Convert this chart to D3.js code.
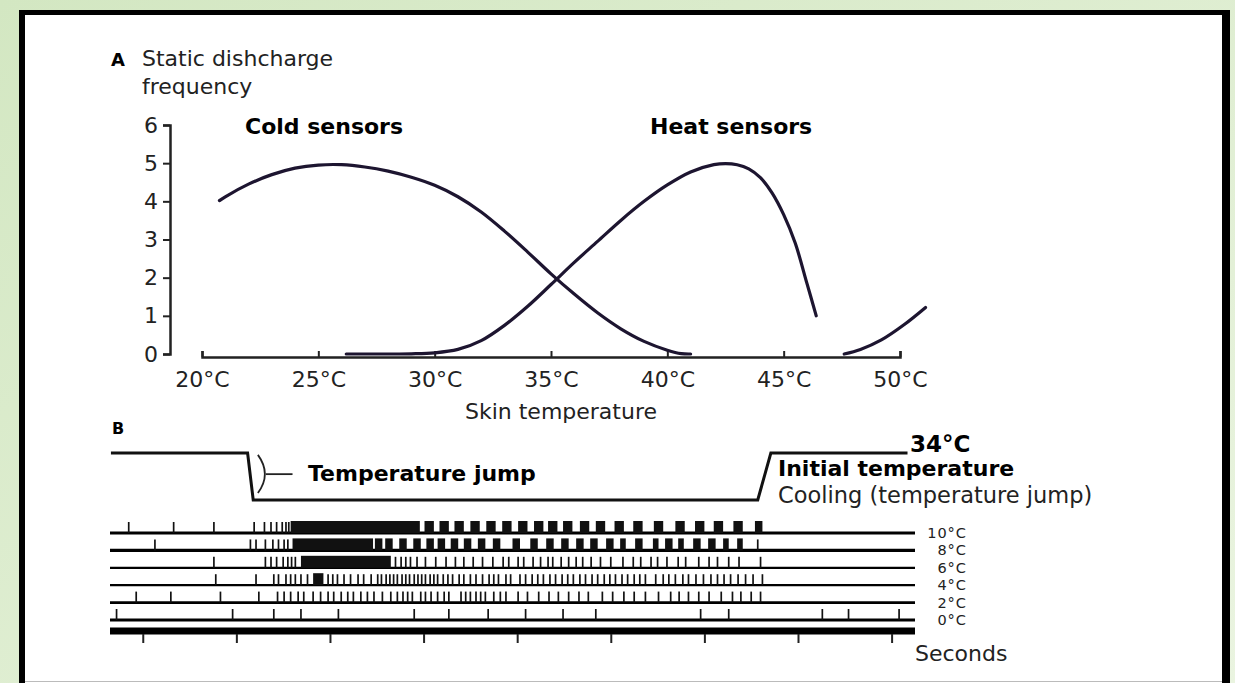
<!DOCTYPE html>
<html>
<head>
<meta charset="utf-8">
<script src="https://cdn.jsdelivr.net/npm/d3@7"></script>
<style>
body{margin:0;}
svg{display:block;font-family:"DejaVu Sans",Verdana,sans-serif;}
</style>
</head>
<body>
<svg></svg>
<script>
// ---- panel A data (skin temperature in °C, discharge frequency)
var tempTicks=[20,25,30,35,40,45,50];
var freqTicks=[0,1,2,3,4,5,6];
var coldSensors=[[20.75,4.02],[21,4.12],[22,4.45],[23,4.7],[24,4.87],[25,4.95],[26,4.96],[27,4.9],[28,4.79],[29,4.63],[30,4.42],[31,4.12],[32,3.72],[33,3.22],[34,2.67],[35,2.1],[36,1.57],[37,1.08],[38,0.66],[39,0.33],[40,0.1],[40.6,0.01],[41,0]];
var heatSensors=[[26.2,0],[28,0],[29,0.005],[30,0.03],[31,0.12],[32,0.35],[33,0.75],[34,1.25],[35,1.82],[36,2.4],[37,2.95],[38,3.5],[39,4.0],[40,4.43],[41,4.77],[42,4.96],[42.5,4.99],[43,4.96],[43.5,4.85],[44,4.62],[44.5,4.22],[45,3.65],[45.5,2.9],[46,1.85],[46.4,1.0]];
var heatSensorsHigh=[[47.6,0],[48.3,0.12],[49.2,0.37],[50.2,0.78],[51.1,1.22]];

// ---- panel B data (time in seconds)
var secondTicks=[0,1,2,3,4,5,6,7,8];
var tempTrace=[{t:-0.34,level:1},{t:1.12,level:1},{t:1.18,level:0},{t:6.57,level:0},{t:6.71,level:1},{t:8.17,level:1}];
var rows=["10°C","8°C","6°C","4°C","2°C","0°C"];

var spikes10=[-0.15,0.33,0.76,1.19,1.30,1.37,1.43,1.49,1.53,1.56];
var bursts10=[[1.58,2.96],[3.01,3.11],[3.17,3.27],[3.33,3.43],[3.50,3.60],[3.67,3.77],[3.84,3.94],[4.01,4.11],[4.18,4.28],[4.33,4.43],[4.49,4.59],[4.67,4.77],[4.84,4.94],[5.04,5.14],[5.24,5.34],[5.46,5.56],[5.69,5.79],[5.90,6.00],[6.10,6.20],[6.31,6.41],[6.54,6.62]];

var spikes8=[0.13,1.15,1.21,1.31,1.39,1.45,1.51,1.55,6.57];
var bursts8=[[1.60,2.46],[2.48,2.56],[2.59,2.67],[2.74,2.82],[2.89,2.97],[3.03,3.11],[3.15,3.23],[3.29,3.37],[3.43,3.51],[3.58,3.66],[3.74,3.82],[3.95,4.03],[4.14,4.22],[4.31,4.39],[4.47,4.55],[4.63,4.71],[4.78,4.86],[4.95,5.03],[5.10,5.16],[5.26,5.34],[5.45,5.51],[5.58,5.66],[5.72,5.78],[5.88,5.96],[6.04,6.12],[6.20,6.26],[6.35,6.41]];

var spikes6=[0.76,1.31,1.37,1.43,1.50,1.55,1.59,1.63,2.70,2.76,2.81,2.86,2.93,3.02,3.13,3.24,3.34,3.43,3.53,3.63,3.74,3.85,3.91,4.01,4.07,4.17,4.25,4.33,4.38,4.47,4.55,4.63,4.70,4.79,4.89,5.00,5.13,5.24,5.32,5.43,5.50,5.60,5.72,5.80,5.94,6.05,6.14,6.26,6.37,6.60];
var bursts6=[[1.69,2.65]];

var spikes4=[0.78,1.21,1.40,1.45,1.53,1.58,1.63,1.69,1.76,1.98,2.03,2.08,2.15,2.22,2.30,2.36,2.44,2.51,2.55,2.60,2.64,2.68,2.72,2.77,2.81,2.85,2.90,2.94,2.98,3.02,3.07,3.11,3.15,3.21,3.26,3.31,3.38,3.43,3.50,3.56,3.63,3.70,3.75,3.80,3.88,3.93,4.03,4.09,4.16,4.22,4.28,4.35,4.41,4.48,4.54,4.60,4.67,4.73,4.80,4.86,4.93,4.99,5.05,5.12,5.18,5.25,5.31,5.37,5.48,5.56,5.62,5.69,5.77,5.83,5.91,5.99,6.07,6.14,6.21,6.28,6.36,6.44,6.52,6.62];
var bursts4=[[1.82,1.93]];

var spikes2=[-0.07,0.30,0.83,1.24,1.44,1.51,1.58,1.66,1.72,1.82,1.90,1.98,2.04,2.12,2.19,2.25,2.33,2.40,2.47,2.56,2.65,2.72,2.78,2.83,2.88,2.97,3.02,3.08,3.15,3.22,3.27,3.40,3.45,3.50,3.56,3.61,3.66,3.75,3.82,3.88,4.01,4.11,4.23,4.34,4.44,4.55,4.66,4.76,4.91,5.02,5.14,5.25,5.37,5.51,5.64,5.73,5.83,5.94,6.05,6.18,6.30,6.39,6.50,6.60];
var bursts2=[];

var spikes0=[-0.28,0.96,1.40,1.69,2.09,2.90,3.27,3.69,4.09,4.49,4.84,5.96,6.26,7.26,7.54,8.08];
var bursts0=[];

var spikeRows=[
  {label:rows[0],spikes:spikes10,bursts:bursts10,w:3.2},
  {label:rows[1],spikes:spikes8,bursts:bursts8,w:3.2},
  {label:rows[2],spikes:spikes6,bursts:bursts6,w:2.2},
  {label:rows[3],spikes:spikes4,bursts:bursts4,w:2.2},
  {label:rows[4],spikes:spikes2,bursts:bursts2,w:2.6},
  {label:rows[5],spikes:spikes0,bursts:bursts0,w:3}
];

var W=1235,H=683;
var ink="#1d1530";
var svg=d3.select("svg").attr("width",W).attr("height",H);

// background + framed panel
var grad=svg.append("defs").append("linearGradient").attr("id","bg")
  .attr("x1",0).attr("y1",0).attr("x2",1).attr("y2",1);
grad.append("stop").attr("offset","0%").attr("stop-color","#d3e7c2");
grad.append("stop").attr("offset","100%").attr("stop-color","#eaf4e0");
svg.append("rect").attr("width",W).attr("height",H).attr("fill","url(#bg)");
svg.append("rect").attr("x",19).attr("y",10).attr("width",1211).attr("height",700).attr("fill","#000");
svg.append("rect").attr("x",25).attr("y",15).attr("width",1197).attr("height",700).attr("fill","#fff");
svg.append("line").attr("x1",25).attr("x2",1222).attr("y1",681.5).attr("y2",681.5).attr("stroke","#bbb");

// ================= panel A
var x=d3.scaleLinear().domain([20,50]).range([202,900]);
var y=d3.scaleLinear().domain([0,6]).range([354,125]);

svg.append("text").attr("x",111).attr("y",66).attr("font-size",18).attr("font-weight","bold").text("A");
svg.append("text").attr("x",142).attr("y",66).attr("font-size",22).attr("fill","#222").text("Static dishcharge");
svg.append("text").attr("x",142).attr("y",94).attr("font-size",22).attr("fill","#222").text("frequency");

var yAxis=svg.append("g").attr("transform","translate(170,0)")
  .call(d3.axisLeft(y).tickValues(freqTicks).tickFormat(d3.format("d"))
  .tickSize(7).tickSizeOuter(7).tickPadding(5));
var xAxis=svg.append("g").attr("transform","translate(0,"+(y(0)+3)+")")
  .call(d3.axisBottom(x).tickValues(tempTicks).tickFormat(function(d){return d+"°C";})
  .tickSize(-6).tickSizeOuter(-6).tickPadding(14));
[yAxis,xAxis].forEach(function(a){
  a.select(".domain").attr("stroke","#222").attr("stroke-width",2.5);
  a.selectAll(".tick line").attr("stroke","#222").attr("stroke-width",2);
  a.selectAll(".tick text").attr("font-size",22).attr("fill","#222").attr("font-family","DejaVu Sans, Verdana, sans-serif");
});

svg.append("text").attr("x",561).attr("y",419).attr("text-anchor","middle")
  .attr("font-size",22).attr("fill","#222").text("Skin temperature");
svg.append("text").attr("x",245).attr("y",134).attr("font-size",22).attr("font-weight","bold").text("Cold sensors");
svg.append("text").attr("x",650).attr("y",134).attr("font-size",22).attr("font-weight","bold").text("Heat sensors");

var curve=d3.line().x(function(d){return x(d[0]);}).y(function(d){return y(d[1]);})
  .curve(d3.curveCatmullRom.alpha(0.5));
[coldSensors,heatSensors,heatSensorsHigh].forEach(function(s){
  svg.append("path").datum(s).attr("d",curve)
    .attr("fill","none").attr("stroke",ink).attr("stroke-width",3.2).attr("stroke-linecap","round");
});

// ================= panel B
var t=d3.scaleLinear().domain([-0.35,8.25]).range([110,915]);
var lvl=d3.scaleLinear().domain([0,1]).range([500,453]);
var rowY=d3.scalePoint().domain(rows).range([533,620]);

svg.append("text").attr("x",112).attr("y",434).attr("font-size",16).attr("font-weight","bold").text("B");

svg.append("path").datum(tempTrace)
  .attr("d",d3.line().x(function(d){return t(d.t);}).y(function(d){return lvl(d.level);}))
  .attr("fill","none").attr("stroke","#111").attr("stroke-width",3);

// bracket marking the jump
var bx=t(1.23);
svg.append("path")
  .attr("d","M"+bx+","+lvl(0.96)+"Q"+(bx+14)+","+lvl(0.55)+" "+bx+","+lvl(0.15))
  .attr("fill","none").attr("stroke","#222").attr("stroke-width",1.8);
svg.append("line").attr("x1",bx+8).attr("x2",t(1.6)).attr("y1",lvl(0.55)).attr("y2",lvl(0.55))
  .attr("stroke","#222").attr("stroke-width",1.8);

svg.append("text").attr("x",308).attr("y",481).attr("font-size",22).attr("font-weight","bold").text("Temperature jump");
svg.append("text").attr("x",910).attr("y",452).attr("font-size",23).attr("font-weight","bold").text("34°C");
svg.append("text").attr("x",778).attr("y",476).attr("font-size",22).attr("font-weight","bold").text("Initial temperature");
svg.append("text").attr("x",778).attr("y",503).attr("font-size",22.5).attr("fill","#222").text("Cooling (temperature jump)");

var spikeH=11;
var rowG=svg.selectAll(".row").data(spikeRows).enter().append("g").attr("class","row")
  .attr("transform",function(d){return "translate(0,"+rowY(d.label)+")";});
rowG.append("line").attr("x1",t.range()[0]).attr("x2",t.range()[1])
  .attr("stroke","#000").attr("stroke-width",function(d){return d.w;});
rowG.selectAll(".spike").data(function(d){return d.spikes;}).enter().append("line")
  .attr("x1",function(s){return t(s);}).attr("x2",function(s){return t(s);})
  .attr("y1",0).attr("y2",-spikeH).attr("stroke","#111").attr("stroke-width",1.7);
rowG.selectAll(".burst").data(function(d){return d.bursts;}).enter().append("rect")
  .attr("x",function(b){return t(b[0]);}).attr("width",function(b){return t(b[1])-t(b[0]);})
  .attr("y",-spikeH-1).attr("height",spikeH+1).attr("fill","#111");
rowG.append("text").attr("x",967).attr("y",5).attr("text-anchor","end")
  .attr("font-size",14.5).attr("letter-spacing",1).attr("fill","#222").text(function(d){return d.label;});

// time bar in seconds
svg.append("line").attr("x1",t.range()[0]).attr("x2",t.range()[1]).attr("y1",631).attr("y2",631)
  .attr("stroke","#000").attr("stroke-width",7);
var tAxis=svg.append("g").attr("transform","translate(0,634)")
  .call(d3.axisBottom(t).tickValues(secondTicks).tickSize(9).tickFormat(""));
tAxis.select(".domain").remove();
tAxis.selectAll(".tick line").attr("stroke","#222").attr("stroke-width",2);
svg.append("text").attr("x",915).attr("y",661).attr("font-size",22).attr("fill","#222").text("Seconds");
</script>
</body>
</html>
